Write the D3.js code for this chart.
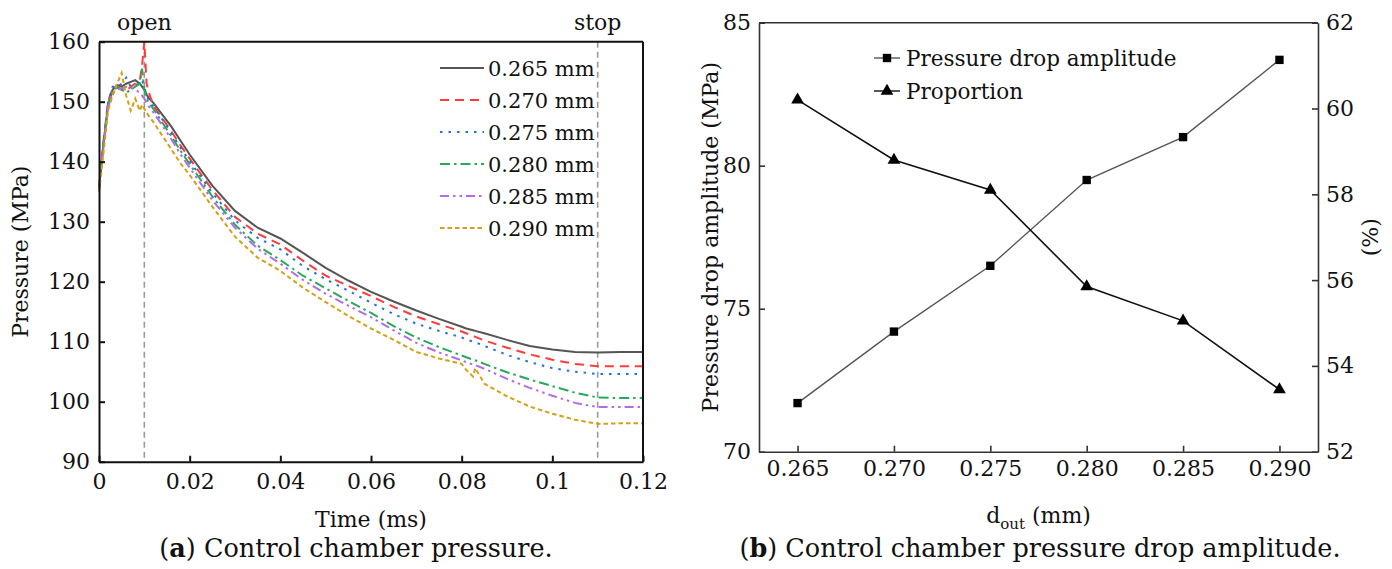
<!DOCTYPE html>
<html>
<head>
<meta charset="utf-8">
<script src="https://cdn.jsdelivr.net/npm/d3@7"></script>
<style>
  body { margin: 0; background: #fff; }
  svg text { fill: #111; }
</style>
</head>
<body>
<div id="chart"></div>
<script>
// Left panel: control chamber pressure vs time
const times = [0, 0.001, 0.002, 0.003, 0.004, 0.005, 0.006, 0.007, 0.008, 0.009, 0.0095, 0.01, 0.0105, 0.011, 0.012, 0.014, 0.016, 0.018, 0.02, 0.025, 0.03, 0.035, 0.04, 0.045, 0.05, 0.055, 0.06, 0.065, 0.07, 0.075, 0.08, 0.081, 0.0825, 0.083, 0.085, 0.09, 0.095, 0.1, 0.105, 0.11, 0.115, 0.12];

const p265 = [135.5, 143, 149.5, 152, 152.8, 152.5, 153, 153.3, 153.6, 153, 152.5, 152, 151.2, 150.6, 149.8, 147.8, 145.8, 143.5, 141.2, 136, 131.8, 129, 127.2, 124.8, 122.3, 120.2, 118.3, 116.7, 115.2, 113.8, 112.5, 112.2, 111.9, 111.8, 111.4, 110.3, 109.3, 108.7, 108.3, 108.2, 108.3, 108.3];
const p270 = [135.5, 143.5, 150, 152.3, 152.5, 152, 151.8, 152.5, 153, 153.5, 156, 160, 153, 151.5, 149.3, 147.2, 145, 142.7, 140.5, 135.3, 130.8, 128, 126.2, 123.5, 121, 119.3, 117.6, 115.8, 114.2, 112.9, 111.7, 111.4, 111, 110.8, 110.2, 109, 107.9, 107, 106.3, 105.9, 105.9, 105.9];
const p275 = [135.5, 143.2, 149.8, 152.5, 152.5, 153, 154, 152.5, 152.8, 153, 153.5, 152.5, 151, 150.3, 149.2, 147, 144.7, 142.3, 140.1, 134.8, 130.2, 127.3, 125.4, 122.6, 120.4, 118.5, 116.5, 114.6, 113, 111.8, 110.7, 110.4, 110, 109.9, 109.3, 107.8, 106.6, 105.6, 105, 104.6, 104.6, 104.6];
const p280 = [135.5, 143, 149.5, 152, 152.3, 152, 151.5, 152, 152.5, 153, 155.5, 152, 150.5, 149.8, 148.8, 146.5, 144.2, 141.8, 139.6, 134.2, 129.5, 126, 123.6, 121, 118.9, 116.8, 114.8, 112.6, 110.7, 109.1, 107.7, 107.4, 107, 106.9, 106.3, 104.9, 103.7, 102.6, 101.5, 100.7, 100.6, 100.6];
const p285 = [135.5, 142.5, 149, 151.5, 152, 152.2, 152.5, 152.3, 152, 151.5, 151, 150.5, 149.8, 149.2, 148.2, 146, 143.7, 141.2, 139, 133.6, 129, 125.5, 123, 120.3, 118, 116, 114.1, 111.9, 109.8, 108.2, 106.9, 106.6, 106.2, 106.1, 105.5, 103.8, 102.3, 101, 99.8, 99.1, 99.1, 99.1];
const p290 = [135, 141.5, 148.5, 151, 153, 154.8, 151, 148.5, 150.5, 148.5, 149.5, 148.8, 148.2, 147.6, 146.6, 144.3, 142, 139.7, 137.8, 132.5, 127.5, 124, 121.8, 119, 116.6, 114.3, 112.2, 110.3, 108.3, 107.2, 106.3, 105.3, 104.2, 105.6, 103, 100.9, 99.2, 98, 97, 96.3, 96.4, 96.4];

const seriesLabels = ["0.265 mm", "0.270 mm", "0.275 mm", "0.280 mm", "0.285 mm", "0.290 mm"];
const seriesValues = [p265, p270, p275, p280, p285, p290];
const seriesColors = ["#555555", "#ff3b3b", "#1f6fe5", "#27a85a", "#b26de6", "#d4a016"];
const seriesDashes = ["none", "9,6", "2.5,6", "10,4,2.5,4", "9,4,2.5,4,2.5,4", "4.5,3"];

const markerTimes = [0.01, 0.11];
const markerLabels = ["open", "stop"];

const timeTicks = [0, 0.02, 0.04, 0.06, 0.08, 0.1, 0.12];
const pressureTicks = [90, 100, 110, 120, 130, 140, 150, 160];

// Right panel: pressure drop amplitude and proportion vs d_out
const dOut = [0.265, 0.270, 0.275, 0.280, 0.285, 0.290];
const dropAmplitude = [71.7, 74.2, 76.5, 79.5, 81.0, 83.7];
const proportion = [60.2, 58.8, 58.1, 55.85, 55.05, 53.45];

const dOutTicks = [0.265, 0.270, 0.275, 0.280, 0.285, 0.290];
const ampTicks = [70, 75, 80, 85];
const propTicks = [52, 54, 56, 58, 60, 62];

const W = 1392, H = 569;
const FONT = "DejaVu Serif";

const svg = d3.select("#chart").append("svg")
  .attr("width", W).attr("height", H)
  .attr("viewBox", `0 0 ${W} ${H}`)
  .attr("font-family", FONT);

svg.append("rect").attr("width", W).attr("height", H).attr("fill", "#fff");

const tickFont = 22;

// ---------- Left panel ----------
const L = { left: 99, right: 643, top: 41.7, bottom: 461.7 };

const xL = d3.scaleLinear().domain([0, 0.12]).range([L.left, L.right]);
const yL = d3.scaleLinear().domain([90, 160]).range([L.bottom, L.top]);

const gL = svg.append("g");

// vertical dashed event lines
markerTimes.forEach((t, i) => {
  gL.append("line")
    .attr("x1", xL(t)).attr("x2", xL(t))
    .attr("y1", L.top).attr("y2", L.bottom)
    .attr("stroke", "#9a9a9a").attr("stroke-width", 1.6)
    .attr("stroke-dasharray", "6,4");
  gL.append("text")
    .attr("x", xL(t)).attr("y", 30)
    .attr("text-anchor", "middle")
    .attr("font-size", 22)
    .text(markerLabels[i]);
});

// curves
const lineL = d3.line()
  .x((d, i) => xL(times[i]))
  .y(d => yL(d));

seriesValues.forEach((vals, k) => {
  gL.append("path")
    .datum(vals)
    .attr("d", lineL)
    .attr("fill", "none")
    .attr("stroke", seriesColors[k])
    .attr("stroke-width", 2)
    .attr("stroke-dasharray", seriesDashes[k]);
});

// axes
const xAxisL = d3.axisBottom(xL)
  .tickValues(timeTicks)
  .tickSizeInner(-6).tickSizeOuter(0)
  .tickPadding(12)
  .tickFormat(d => d === 0 ? "0" : String(+d.toFixed(2)));

const yAxisL = d3.axisLeft(yL)
  .tickValues(pressureTicks)
  .tickSizeInner(-6).tickSizeOuter(0)
  .tickPadding(9);

const gxL = gL.append("g").attr("transform", `translate(0,${L.bottom})`).call(xAxisL);
const gyL = gL.append("g").attr("transform", `translate(${L.left},0)`).call(yAxisL);
[gxL, gyL].forEach(g => {
  g.attr("font-family", FONT).attr("font-size", tickFont);
  g.select(".domain").attr("stroke", "#111").attr("stroke-width", 2);
  g.selectAll(".tick line").attr("stroke", "#111").attr("stroke-width", 2);
  g.selectAll(".tick text").attr("fill", "#111");
});

// top and right frame
gL.append("line").attr("x1", L.left).attr("x2", L.right).attr("y1", L.top).attr("y2", L.top)
  .attr("stroke", "#111").attr("stroke-width", 2);
gL.append("line").attr("x1", L.right).attr("x2", L.right).attr("y1", L.top).attr("y2", L.bottom)
  .attr("stroke", "#111").attr("stroke-width", 2);

// legend
const legL = gL.append("g");
seriesLabels.forEach((lab, k) => {
  const y = 68 + k * 32;
  legL.append("line")
    .attr("x1", 440).attr("x2", 484).attr("y1", y).attr("y2", y)
    .attr("stroke", seriesColors[k]).attr("stroke-width", 2)
    .attr("stroke-dasharray", seriesDashes[k]);
  legL.append("text")
    .attr("x", 488).attr("y", y + 8)
    .attr("font-size", 21)
    .text(lab);
});

// axis titles
gL.append("text")
  .attr("transform", `translate(28,${(L.top + L.bottom) / 2}) rotate(-90)`)
  .attr("text-anchor", "middle")
  .attr("font-size", 22)
  .text("Pressure (MPa)");

gL.append("text")
  .attr("x", (L.left + L.right) / 2).attr("y", 527)
  .attr("text-anchor", "middle")
  .attr("font-size", 22)
  .text("Time (ms)");

// caption
const capA = gL.append("text")
  .attr("x", 356).attr("y", 557)
  .attr("text-anchor", "middle")
  .attr("font-size", 25.5);
capA.append("tspan").text("(");
capA.append("tspan").attr("font-weight", "bold").text("a");
capA.append("tspan").text(") Control chamber pressure.");

// ---------- Right panel ----------
const R = { left: 759, right: 1318, top: 22.7, bottom: 451.7 };

const xR = d3.scaleLinear().domain([0.263, 0.292]).range([R.left, R.right]);
const yR1 = d3.scaleLinear().domain([70, 85]).range([R.bottom, R.top]);
const yR2 = d3.scaleLinear().domain([52, 62]).range([R.bottom, R.top]);

const gR = svg.append("g");

const xAxisR = d3.axisBottom(xR)
  .tickValues(dOutTicks)
  .tickSizeInner(-6).tickSizeOuter(0)
  .tickPadding(9)
  .tickFormat(d3.format(".3f"));
const yAxisR1 = d3.axisLeft(yR1)
  .tickValues(ampTicks)
  .tickSizeInner(-6).tickSizeOuter(0)
  .tickPadding(8);
const yAxisR2 = d3.axisRight(yR2)
  .tickValues(propTicks)
  .tickSizeInner(-6).tickSizeOuter(0)
  .tickPadding(8);

const gxR = gR.append("g").attr("transform", `translate(0,${R.bottom})`).call(xAxisR);
const gyR1 = gR.append("g").attr("transform", `translate(${R.left},0)`).call(yAxisR1);
const gyR2 = gR.append("g").attr("transform", `translate(${R.right},0)`).call(yAxisR2);
[gxR, gyR1, gyR2].forEach(g => {
  g.attr("font-family", FONT).attr("font-size", tickFont);
  g.select(".domain").attr("stroke", "#333").attr("stroke-width", 1.6);
  g.selectAll(".tick line").attr("stroke", "#333").attr("stroke-width", 1.6);
  g.selectAll(".tick text").attr("fill", "#111");
});
gR.append("line").attr("x1", R.left).attr("x2", R.right).attr("y1", R.top).attr("y2", R.top)
  .attr("stroke", "#333").attr("stroke-width", 1.6);

// series lines
const lineAmp = d3.line().x((d, i) => xR(dOut[i])).y(d => yR1(d));
const lineProp = d3.line().x((d, i) => xR(dOut[i])).y(d => yR2(d));

gR.append("path").datum(dropAmplitude).attr("d", lineAmp)
  .attr("fill", "none").attr("stroke", "#555").attr("stroke-width", 1.4);
gR.append("path").datum(proportion).attr("d", lineProp)
  .attr("fill", "none").attr("stroke", "#111").attr("stroke-width", 1.6);

const sq = d3.symbol().type(d3.symbolSquare).size(70);
const tri = d3.symbol().type(d3.symbolTriangle).size(70);

gR.selectAll(".sq").data(dropAmplitude).enter().append("path")
  .attr("class", "sq")
  .attr("d", sq)
  .attr("transform", (d, i) => `translate(${xR(dOut[i])},${yR1(d)})`)
  .attr("fill", "#000");
gR.selectAll(".tri").data(proportion).enter().append("path")
  .attr("class", "tri")
  .attr("d", tri)
  .attr("transform", (d, i) => `translate(${xR(dOut[i])},${yR2(d)})`)
  .attr("fill", "#000");

// legend
const legR = [
  { label: "Pressure drop amplitude", sym: sq, y: 58, stroke: "#555" },
  { label: "Proportion", sym: tri, y: 91, stroke: "#111" }
];
legR.forEach(e => {
  gR.append("line").attr("x1", 874).attr("x2", 900).attr("y1", e.y).attr("y2", e.y)
    .attr("stroke", e.stroke).attr("stroke-width", 1.4);
  gR.append("path").attr("d", e.sym).attr("transform", `translate(887,${e.y})`).attr("fill", "#000");
  gR.append("text").attr("x", 906).attr("y", e.y + 8)
    .attr("font-size", 21.5).text(e.label);
});

// axis titles
gR.append("text")
  .attr("transform", `translate(718,${(R.top + R.bottom) / 2}) rotate(-90)`)
  .attr("text-anchor", "middle")
  .attr("font-size", 22)
  .text("Pressure drop amplitude (MPa)");

gR.append("text")
  .attr("transform", `translate(1378,${(R.top + R.bottom) / 2}) rotate(-90)`)
  .attr("text-anchor", "middle")
  .attr("font-size", 22)
  .text("(%)");

const xt = gR.append("text")
  .attr("x", (R.left + R.right) / 2).attr("y", 523)
  .attr("text-anchor", "middle")
  .attr("font-size", 22);
xt.append("tspan").text("d");
xt.append("tspan").attr("dy", 6).attr("font-size", 15).text("out");
xt.append("tspan").attr("dy", -6).text(" (mm)");

const capB = gR.append("text")
  .attr("x", 1040).attr("y", 557)
  .attr("text-anchor", "middle")
  .attr("font-size", 25.5);
capB.append("tspan").text("(");
capB.append("tspan").attr("font-weight", "bold").text("b");
capB.append("tspan").text(") Control chamber pressure drop amplitude.");
</script>
</body>
</html>
